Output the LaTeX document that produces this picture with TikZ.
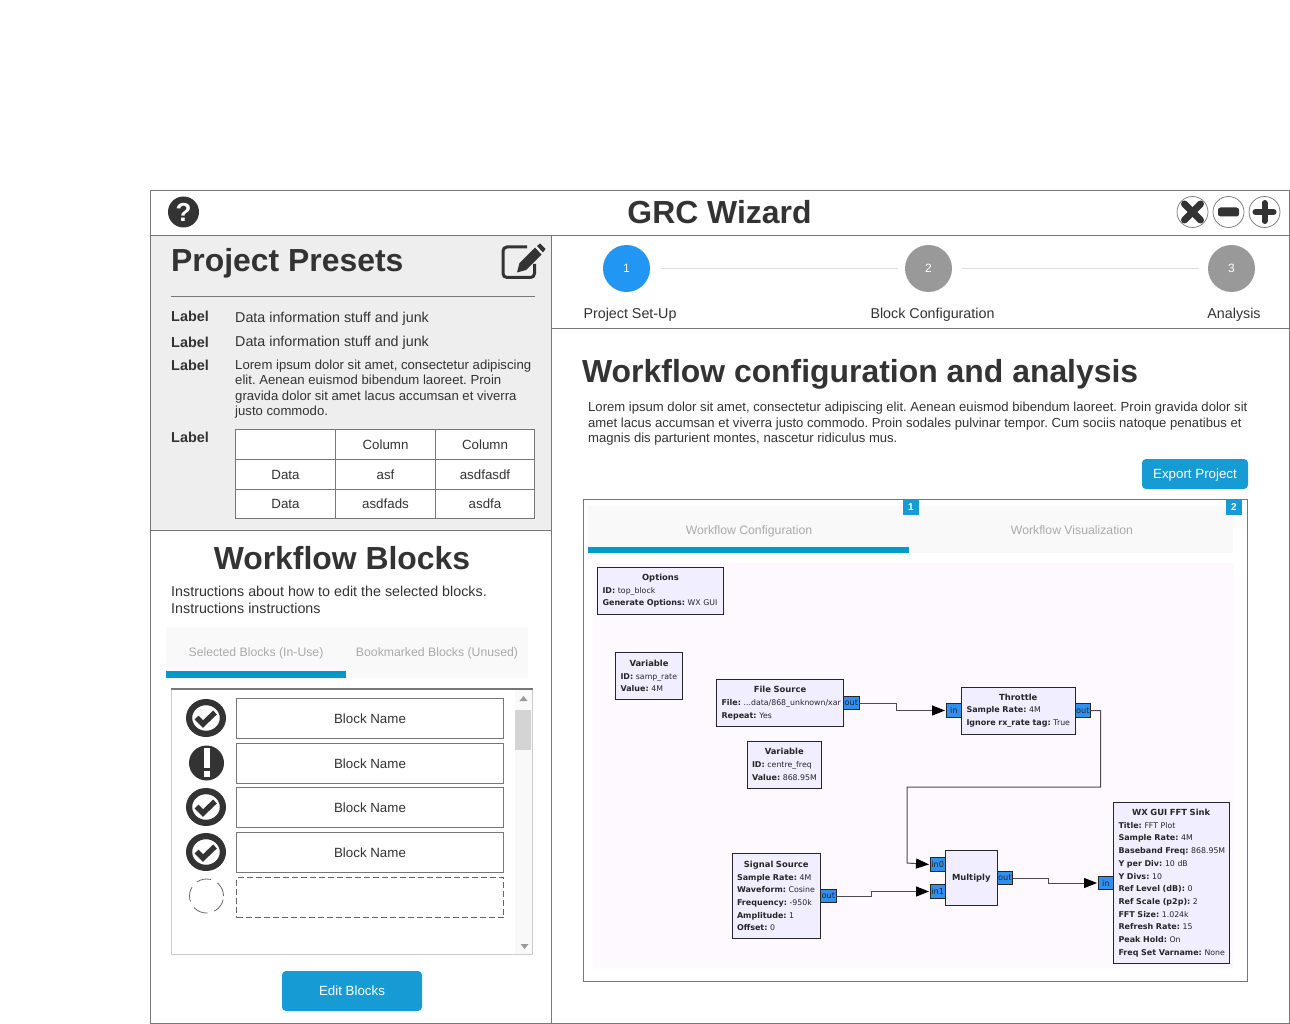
\documentclass[tikz,border=0pt]{standalone}
\usepackage{fontspec}
\setmainfont{Liberation Sans}
\newfontfamily\grcfont{DejaVu Sans}
\usetikzlibrary{arrows.meta,positioning}
\frenchspacing
\definecolor{ink}{HTML}{333333}
\definecolor{rule}{HTML}{777777}
\definecolor{panel}{HTML}{EEEEEE}
\definecolor{tabbg}{HTML}{F9F9F9}
\definecolor{tabtext}{HTML}{AAAAAA}
\definecolor{bar}{HTML}{0099CC}
\definecolor{btn}{HTML}{169BD5}
\definecolor{stepon}{HTML}{2196F3}
\definecolor{stepoff}{HTML}{999999}
\definecolor{canvas}{HTML}{FDF9FF}
\definecolor{grcfill}{HTML}{F0EEFF}
\definecolor{portblue}{HTML}{3090F0}
\tikzset{
  title/.style={font=\bfseries\fontsize{31.9}{36}\selectfont, text=ink, inner sep=0pt},
  body/.style={font=\fontsize{13.15}{15.5}\selectfont, text=ink, inner sep=0pt, align=left},
  bodywide/.style={font=\fontsize{14.3}{17}\selectfont, text=ink, inner sep=0pt, align=left},
  lbl/.style={font=\bfseries\fontsize{14.4}{16}\selectfont, text=ink, inner sep=0pt, anchor=west},
  cell/.style={draw=rule, fill=white, anchor=north west, inner sep=0pt, outer sep=0pt,
               font=\fontsize{13.33}{16}\selectfont, text=ink, text height=12pt, text depth=3pt},
  tabtxt/.style={font=\fontsize{12.25}{14}\selectfont, text=tabtext, inner sep=0pt,
               text height=11pt, text depth=3pt},
  blockbox/.style={draw=rule, fill=white, anchor=north west, minimum width=267pt, minimum height=40pt,
               inner sep=0pt, outer sep=0pt, font=\fontsize{13.33}{16}\selectfont, text=ink,
               text height=12pt, text depth=3pt},
  button/.style={fill=btn, rounded corners=4pt, text=white, inner sep=0pt,
               font=\fontsize{13.33}{16}\selectfont, text height=12pt, text depth=3pt},
  stepdot/.style={circle, minimum size=47pt, inner sep=0pt, outer sep=0pt, text=white,
               font=\fontsize{12}{14}\selectfont},
  stepline/.style={draw=black!13, line width=1pt},
  badge/.style={fill=btn, text=white, minimum size=16pt, inner sep=0pt, font=\bfseries\fontsize{10}{12}\selectfont},
  grc/.style={draw=black!85, fill=grcfill, line width=1pt, anchor=north west, outer sep=0pt,
               inner xsep=5pt, inner ysep=0pt, align=left,
               font=\grcfont\fontsize{7.8}{12.7}\selectfont, text=black!85},
  port/.style={draw=black!85, fill=portblue, line width=1pt, inner sep=0pt, outer sep=0pt,
               minimum width=15.5pt, minimum height=13.5pt, text=black!85,
               font=\grcfont\fontsize{8.2}{10}\selectfont},
  wire/.style={draw=black!70, line width=1pt},
  arrowed/.style={wire, -{Triangle[length=13pt,width=10pt,black]}, shorten >=1pt},
  okicon/.pic={
    \draw[ink, line width=6.2pt] (0,0) ellipse (16.9pt and 15.9pt);
    \draw[ink, line width=5.4pt] (-9.5,-0.5) -- (-3,6) -- (9,-5.5);
  },
  wideicon/.style={draw=rule, fill=white, circle, minimum size=31pt, inner sep=0pt, line width=0.7pt},
}
\newcommand{\grctitle}[1]{\makebox[\linewidth][c]{\fontsize{8.4}{12.7}\selectfont\textbf{#1}}}
\newcommand{\grcline}[2]{\mbox{\fontsize{8}{12.7}\selectfont\textbf{#1} \fontsize{7.8}{12.7}\selectfont #2}}
\begin{document}
\begin{tikzpicture}[x=1pt,y=-1pt]
  \useasboundingbox (0,0) rectangle (1290,1024);
  \fill[white] (0,0) rectangle (1290,1024);
  % panels
  \fill[panel] (150,236) rectangle (552,530);
  \draw[rule, line width=1pt] (150.5,190.5) rectangle (1289.5,1023.5);
  \draw[rule, line width=1pt] (150,235.5) -- (1290,235.5);
  \draw[rule, line width=1pt] (551.5,236) -- (551.5,1024);
  \draw[rule, line width=1pt] (150,530) -- (552,530);
  \draw[rule, line width=1pt] (552,328.5) -- (1290,328.5);
  % title bar
  \node[circle, fill=ink, text=white, minimum size=31pt, inner sep=0pt,
        font=\bfseries\fontsize{26}{26}\selectfont] (help) at (183.5,212) {?};
  \node[title, anchor=base] (wizard) at (719.5,224) {GRC Wizard};
  \node[wideicon] (closebtn) at (1192.5,212) {};
  \node[wideicon] (minbtn) at (1228.5,212) {};
  \node[wideicon] (maxbtn) at (1264.5,212) {};
  \draw[ink, line width=7pt, line cap=round] ([shift={(-8,-8)}]closebtn.center) -- ([shift={(8,8)}]closebtn.center);
  \draw[ink, line width=7pt, line cap=round] ([shift={(8,-8)}]closebtn.center) -- ([shift={(-8,8)}]closebtn.center);
  \fill[ink, rounded corners=2.5pt] ([shift={(-10.5,-4.5)}]minbtn.center) rectangle ([shift={(10.5,4.5)}]minbtn.center);
  \draw[ink, line width=6pt, line cap=round] ([xshift=-9pt]maxbtn.center) -- ([xshift=9pt]maxbtn.center);
  \draw[ink, line width=6pt, line cap=round] ([yshift=-9pt]maxbtn.center) -- ([yshift=9pt]maxbtn.center);
  % project presets
  \node[title, anchor=base west] (presets) at (171,272) {Project Presets};
  \draw[ink, line width=3pt, rounded corners=4pt] (527,247) -- (503,247) -- (503,277.5) -- (534.5,277.5) -- (534.5,264);
  \fill[ink] (517,272.5) -- (519.5,263) -- (535,247.5) -- (541.5,254.5) -- (526,270) -- cycle;
  \fill[ink] (537,246) -- (540,243.5) -- (545.5,249) -- (543,252.5) -- cycle;
  \draw[rule, line width=1pt] (171,296.5) -- (535,296.5);
  \node[lbl] (lab1) at (171,316) {Label};
  \node[lbl] (lab2) at (171,342) {Label};
  \node[lbl] (lab3) at (171,365) {Label};
  \node[lbl] (lab4) at (171,437) {Label};
  \node[bodywide, anchor=west] (info1) at (235,318.5) {Data information stuff and junk};
  \node[bodywide, anchor=west] (info2) at (235,342.5) {Data information stuff and junk};
  \node[body, anchor=west] (info3) at (235,389) {Lorem ipsum dolor sit amet, consectetur adipiscing\\elit. Aenean euismod bibendum laoreet. Proin\\gravida dolor sit amet lacus accumsan et viverra\\justo commodo.};
  \foreach \n/\x/\y/\w/\h/\t in {
      c11/235.5/429.5/100/30/{}, c12/335.5/429.5/100/30/Column, c13/435.5/429.5/99/30/Column,
      c21/235.5/459.5/100/30/Data, c22/335.5/459.5/100/30/asf, c23/435.5/459.5/99/30/asdfasdf,
      c31/235.5/489.5/100/29/Data, c32/335.5/489.5/100/29/asdfads, c33/435.5/489.5/99/29/asdfa}
    \node[cell, minimum width=\w pt, minimum height=\h pt] (\n) at (\x,\y) {\t};
  % workflow blocks
  \node[title, anchor=base] (wfblocks) at (342,569) {Workflow Blocks};
  \node[bodywide, anchor=west] (instr) at (171,599.5) {Instructions about how to edit the selected blocks.\\Instructions instructions};
  \fill[tabbg] (166,627) rectangle (528,678);
  \fill[bar] (166,671) rectangle (346,678);
  \node[tabtxt] (seltab) at (256,652) {Selected Blocks (In-Use)};
  \node[tabtxt] (bmktab) at (437,652) {Bookmarked Blocks (Unused)};
  \draw[black!20, line width=1pt] (171.5,689) rectangle (532.5,954);
  \draw[rule, line width=1.2pt] (171,689) -- (533,689);
  \fill[tabbg] (515,690) rectangle (532,953.5);
  \fill[black!17] (515,710) rectangle (531,750);
  \fill[black!40] (519.5,701) -- (523.5,696) -- (527.5,701) -- cycle;
  \fill[black!40] (520.5,944) -- (528.5,944) -- (524.5,949) -- cycle;
  \foreach \n/\y in {1/698.5,2/743.5,3/787.5,4/832.5}
    \node[blockbox] (block\n) at (236.5,\y) {Block Name};
  \node[blockbox, draw=black!60, dash pattern=on 6pt off 3pt] (block5) at (236.5,877.5) {};
  \pic at (206,718) {okicon};
  \pic at (206,807) {okicon};
  \pic at (206,852) {okicon};
  \fill[ink] (206.5,763) circle (17.5pt);
  \fill[white] (203.5,748) rectangle (209.5,767.5);
  \fill[white] (203.5,770.5) rectangle (209.5,776.5);
  \draw[black!60, line width=0.8pt, dash pattern=on 15pt off 7pt] (206.5,896) circle (17pt);
  \node[button, minimum width=140pt, minimum height=40pt] (editbtn) at (352,991) {Edit Blocks};
  % wizard steps
  \node[stepdot, fill=stepon] (step1) at (626.5,268.5) {1};
  \node[stepdot, fill=stepoff] (step2) at (928.5,268.5) {2};
  \node[stepdot, fill=stepoff] (step3) at (1231.5,268.5) {3};
  \draw[stepline] ([xshift=11pt]step1.east) -- ([xshift=-7pt]step2.west);
  \draw[stepline] ([xshift=10pt]step2.east) -- ([xshift=-9pt]step3.west);
  \node[bodywide, anchor=center] (name1) at (630,315) {Project Set-Up};
  \node[bodywide, anchor=center] (name2) at (932.5,315) {Block Configuration};
  \node[bodywide, anchor=center] (name3) at (1234,315) {Analysis};
  % main content
  \node[title, anchor=base west] (heading) at (582,382) {Workflow configuration and analysis};
  \node[body, anchor=west, font=\fontsize{13.09}{15.5}\selectfont] (para) at (588,424) {Lorem ipsum dolor sit amet, consectetur adipiscing elit. Aenean euismod bibendum laoreet. Proin gravida dolor sit\\amet lacus accumsan et viverra justo commodo. Proin sodales pulvinar tempor. Cum sociis natoque penatibus et\\magnis dis parturient montes, nascetur ridiculus mus.};
  \node[button, minimum width=106pt, minimum height=30pt] (export) at (1195,474) {Export Project};
  \draw[rule, line width=1pt] (583.5,499.5) rectangle (1247.5,981.5);
  \fill[tabbg] (588,506) rectangle (1233,553);
  \fill[bar] (588,547) rectangle (909,553);
  \node[tabtxt] (cfgtab) at (749,530) {Workflow Configuration};
  \node[tabtxt] (vistab) at (1072,530) {Workflow Visualization};
  \node[badge] (badge1) at (911,507) {1};
  \node[badge] (badge2) at (1234,507) {2};
  \fill[canvas] (593,563) rectangle (1234,968);
  % flowgraph
  \node[grc, text width=116pt, minimum height=46.5pt] (options) at (597.5,567.5)
    {\grctitle{Options}\\\grcline{ID:}{top\_block}\\\grcline{Generate Options:}{WX GUI}};
  \node[grc, text width=57pt, minimum height=47pt] (samprate) at (615.5,652.5)
    {\grctitle{Variable}\\\grcline{ID:}{samp\_rate}\\\grcline{Value:}{4M}};
  \node[grc, text width=117pt, minimum height=47pt] (filesrc) at (716.5,679.5)
    {\grctitle{File Source}\\\grcline{File:}{...data/868\_unknown/xar}\\\grcline{Repeat:}{Yes}};
  \node[grc, text width=64.5pt, minimum height=47pt] (centre) at (747,741)
    {\grctitle{Variable}\\\grcline{ID:}{centre\_freq}\\\grcline{Value:}{868.95M}};
  \node[grc, text width=103.5pt, minimum height=47pt] (throttle) at (961.5,687)
    {\grctitle{Throttle}\\\grcline{Sample Rate:}{4M}\\\grcline{Ignore rx\_rate tag:}{True}};
  \node[grc, text width=78.5pt, minimum height=85pt] (sigsrc) at (732,853.5)
    {\grctitle{Signal Source}\\\grcline{Sample Rate:}{4M}\\\grcline{Waveform:}{Cosine}\\\grcline{Frequency:}{-950k}\\\grcline{Amplitude:}{1}\\\grcline{Offset:}{0}};
  \node[grc, align=center, inner xsep=0pt, minimum width=51.5pt, minimum height=55pt] (multiply) at (945.5,850.5)
    {\fontsize{8.4}{12.7}\selectfont\textbf{Multiply}};
  \node[grc, text width=105.5pt, minimum height=161pt] (fftsink) at (1113.5,802.5)
    {\grctitle{WX GUI FFT Sink}\\\grcline{Title:}{FFT Plot}\\\grcline{Sample Rate:}{4M}\\\grcline{Baseband Freq:}{868.95M}\\\grcline{Y per Div:}{10 dB}\\\grcline{Y Divs:}{10}\\\grcline{Ref Level (dB):}{0}\\\grcline{Ref Scale (p2p):}{2}\\\grcline{FFT Size:}{1.024k}\\\grcline{Refresh Rate:}{15}\\\grcline{Peak Hold:}{On}\\\grcline{Freq Set Varname:}{None}};
  \node[port, right=0pt of filesrc] (fileout) {out};
  \node[port, left=0pt of throttle] (thrin) {in};
  \node[port, right=0pt of throttle] (throut) {out};
  \node[port, right=0pt of sigsrc] (sigout) {out};
  \node[port, left=0pt of multiply.west, yshift=13.5pt] (mulin0) {in0};
  \node[port, left=0pt of multiply.west, yshift=-13.5pt] (mulin1) {in1};
  \node[port, right=0pt of multiply] (mulout) {out};
  \node[port, left=0pt of fftsink] (fftin) {in};
  \draw[arrowed] (fileout.east) -- ++(37,0) |- (thrin.west);
  \draw[arrowed] (throut.east) -- ++(10,0) -- ++(0,76.5) -| (907,863) -- (mulin0.west);
  \draw[arrowed] (sigout.east) -- ++(35,0) |- (mulin1.west);
  \draw[arrowed] (mulout.east) -- ++(36,0) |- (fftin.west);
\end{tikzpicture}
\end{document}
